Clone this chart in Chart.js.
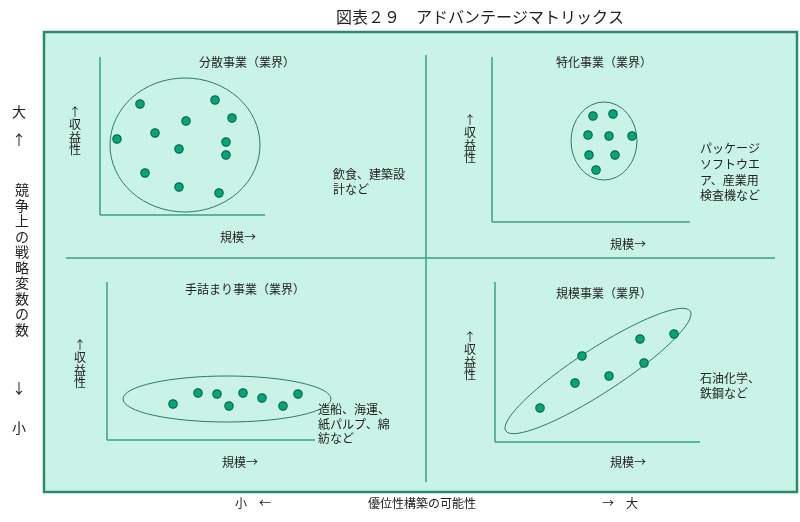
<!DOCTYPE html>
<html><head><meta charset="utf-8">
<script src="https://cdn.jsdelivr.net/npm/chart.js@4"></script>
<style>html,body{margin:0;padding:0;background:#fff}#w{width:800px;height:522px}</style>
</head><body><div id="w"><canvas id="c"></canvas></div>
<script>
const q1Points=[[140,104],[215,100],[232,118],[186,121],[155,133],[117,139],[226,142],[179,149],[226,155],[145,173],[179,187],[219,193]];
const q2Points=[[593,116],[613,114],[588,135],[609,136],[632,136],[589,155],[615,155],[596,170]];
const q3Points=[[173,404],[198,393],[217,394],[243,393],[229,406],[262,398],[283,406],[298,394]];
const q4Points=[[540,408],[582,356],[575,383],[609,376],[640,339],[644,363],[674,334]];
const ellipses=[[185,145,75,67,0],[604,141,33,39,0],[227,399,104,23,0],[598,371,110,22,-33]];
const segments=[[66,258,775,258],[426,55,426,482],
 [100,57,100,215],[100,215,265,215],[492,57,492,222],[492,222,690,222],
 [107,282,107,440],[107,440,315,440],[495,282,495,442],[495,442,700,442]];
const titleText='図表２９　アドバンテージマトリックス';
const labels=[
 ['分散事業（業界）',247,62,'center'],['特化事業（業界）',604,62,'center'],
 ['手詰まり事業（業界）',245,289,'center'],['規模事業（業界）',604,293,'center'],
 ['規模→',238,237,'center'],['規模→',628,244,'center'],['規模→',240,462,'center'],['規模→',628,462,'center'],
 ['飲食、建築設',333,174,'left'],['計など',333,189,'left'],
 ['パッケージ',700,148,'left'],['ソフトウエ',700,164,'left'],['ア、産業用',700,180,'left'],['検査機など',700,195,'left'],
 ['造船、海運、',318,409,'left'],['紙パルプ、綿',318,424,'left'],['紡など',318,438,'left'],
 ['石油化学、',700,378,'left'],['鉄鋼など',700,393,'left'],
 ['小　←',253,503,'center'],['優位性構築の可能性',422,503,'center'],['→　大',620,503,'center'],
 ['大',19,112,'center'],['↑',19,140,'center'],['↓',19,388,'center'],['小',19,428,'center']];
const vLabels=[['↑収益性',75,112],['↑収益性',470,120],['↑収益性',80,345],['↑収益性',470,337],['競争上の戦略変数の数',22,190]];
const F='"Noto Sans CJK JP","Noto Sans",sans-serif';
const ds=[q1Points,q2Points,q3Points,q4Points].map(p=>({data:p.map(a=>({x:a[0],y:a[1]})),pointRadius:4.2,pointBackgroundColor:'#05a47a',pointBorderColor:'#0a6b4e',pointBorderWidth:1.2,pointStyle:'circle',showLine:false}));
const deco={id:'deco',beforeDatasetsDraw(ch){
 const c=ch.ctx,X=ch.scales.x,Y=ch.scales.y,px=v=>X.getPixelForValue(v),py=v=>Y.getPixelForValue(v);
 c.save();
 c.fillStyle='#c9f3e6';c.fillRect(px(44),py(32),px(797)-px(44),py(492)-py(32));
 c.strokeStyle='#2a8c6c';c.lineWidth=2.5;c.strokeRect(px(44),py(32),px(797)-px(44),py(492)-py(32));
 c.strokeStyle='#3aa07c';c.lineWidth=1.5;
 segments.forEach(s=>{c.beginPath();c.moveTo(px(s[0]),py(s[1]));c.lineTo(px(s[2]),py(s[3]));c.stroke();});
 c.strokeStyle='#2f7a64';c.lineWidth=1;
 ellipses.forEach(e=>{c.beginPath();c.ellipse(px(e[0]),py(e[1]),px(e[0]+e[2])-px(e[0]),py(e[1]+e[3])-py(e[1]),e[4]*Math.PI/180,0,2*Math.PI);c.stroke();});
 c.fillStyle='#222';c.textBaseline='middle';
 c.font='16px '+F;c.textAlign='center';c.fillText(titleText,px(480),py(17));
 labels.forEach(l=>{c.textAlign=l[3];c.font=(l[0].length==1?'14px ':'12px ')+F;c.fillText(l[0],px(l[1]),py(l[2]));});
 c.textAlign='center';
 vLabels.forEach(v=>{const big=v[0].length>5;c.font=(big?'14px ':'12px ')+F;const step=big?15.5:12.5;[...v[0]].forEach((ch2,i)=>{c.fillText(ch2,px(v[1]),py(v[2]+i*step));});});
 c.restore();}};
new Chart(document.getElementById('c'),{type:'scatter',data:{datasets:ds},plugins:[deco],
 options:{responsive:true,maintainAspectRatio:false,animation:false,layout:{padding:0,autoPadding:false},
 plugins:{legend:{display:false},tooltip:{enabled:false}},
 scales:{x:{type:'linear',min:0,max:800,display:false},y:{type:'linear',min:0,max:522,reverse:true,display:false}}}});
</script></body></html>
